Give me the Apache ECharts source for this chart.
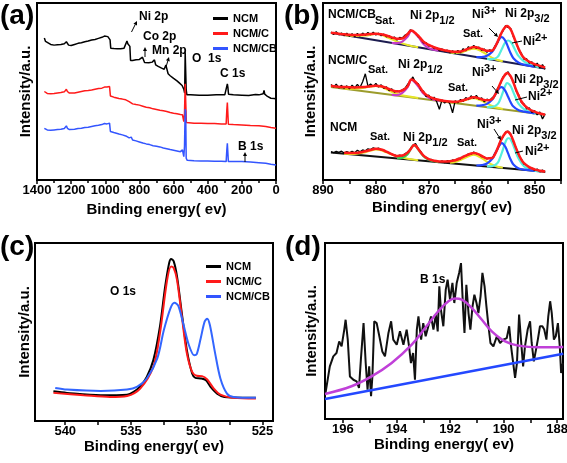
<!DOCTYPE html>
<html><head><meta charset="utf-8">
<script src="https://cdn.jsdelivr.net/npm/echarts@6/dist/echarts.min.js"></script>
<style>html,body{margin:0;padding:0;background:#fff}#c{width:567px;height:463px}</style>
</head><body><div id="c"></div>
<script>
// ---------- Panel (a): survey spectra [binding energy, intensity] ----------
const surveyNCM = [[1357,80.2],[1350,78.3],[1340,77.4],[1320,76.6],[1300,76.2],[1280,76.4],[1260,76.6],[1240,77.0],[1228,78.1],[1222,77.4],[1215,76.2],[1200,76.0],[1180,76.6],[1160,77.2],[1140,77.5],[1120,78.1],[1100,78.5],[1080,79.1],[1060,79.4],[1040,80.0],[1020,80.6],[1005,81.3],[995,80.4],[985,81.0],[978,81.7],[972,79.2],[968,74.5],[950,74.3],[930,74.2],[910,74.2],[890,74.5],[880,75.5],[873,78.5],[868,77.0],[862,77.7],[856,75.5],[852,67.5],[840,67.5],[820,67.9],[800,68.1],[790,68.5],[782,69.4],[778,68.3],[770,66.4],[760,65.8],[745,66.2],[725,66.6],[712,67.9],[705,65.1],[690,64.2],[670,63.2],[655,62.6],[645,64.9],[640,64.5],[632,60.0],[620,58.9],[600,57.4],[580,56.0],[565,54.7],[550,53.4],[540,51.3],[535,49.1],[532,72.1],[529,72.5],[526,50.9],[522,48.1],[500,48.1],[450,47.9],[400,47.9],[350,48.1],[300,48.1],[290,48.5],[285,54.3],[282,52.5],[278,48.5],[250,48.1],[200,47.9],[160,47.7],[120,48.3],[100,48.1],[75,48.7],[70,50.6],[66,48.5],[50,47.2],[30,46.2],[10,46.0],[0,45.8]];
const surveyNCMC = [[1357,50.0],[1340,48.9],[1320,48.7],[1300,48.9],[1280,49.2],[1260,49.4],[1240,49.8],[1228,51.3],[1222,50.0],[1210,49.1],[1200,48.9],[1180,49.2],[1160,49.6],[1140,50.0],[1120,50.4],[1100,50.6],[1080,50.9],[1060,51.3],[1040,51.7],[1020,51.9],[1005,52.5],[990,52.5],[980,53.2],[975,52.8],[970,47.5],[950,46.8],[920,46.0],[900,45.7],[880,45.3],[860,44.3],[850,43.4],[840,43.0],[820,42.6],[800,42.3],[780,41.7],[760,41.1],[740,40.8],[720,40.2],[700,39.8],[680,39.4],[660,39.1],[640,38.7],[620,38.1],[600,37.7],[580,37.4],[560,37.0],[548,36.8],[540,33.0],[536,37.7],[532,54.3],[528,53.2],[525,32.5],[520,32.1],[480,32.1],[440,32.1],[400,31.9],[360,31.9],[320,31.7],[292,31.7],[288,39.6],[285,43.8],[282,43.4],[279,31.5],[250,31.3],[200,31.1],[150,30.8],[100,30.6],[60,30.2],[30,29.6],[0,29.2]];
const surveyNCMCB = [[1357,29.2],[1340,28.3],[1320,28.1],[1300,28.3],[1280,28.5],[1260,28.7],[1240,29.1],[1228,30.6],[1222,29.2],[1210,28.5],[1200,28.3],[1180,28.7],[1160,29.1],[1140,29.2],[1120,29.6],[1100,29.8],[1080,30.2],[1060,30.6],[1040,30.9],[1020,31.3],[1005,31.9],[990,31.7],[980,32.6],[975,32.1],[970,27.4],[950,26.8],[920,26.0],[900,25.5],[880,24.9],[860,23.8],[852,23.0],[848,24.2],[840,22.6],[820,22.1],[800,21.5],[780,20.9],[760,20.4],[740,20.0],[720,19.4],[700,19.1],[680,18.7],[660,18.1],[640,17.7],[620,17.2],[600,16.8],[580,16.4],[560,16.0],[548,17.0],[540,13.2],[536,18.9],[532,40.0],[529,38.7],[526,12.3],[520,11.1],[480,10.9],[440,10.8],[400,10.8],[360,10.6],[320,10.6],[292,10.4],[288,17.0],[285,20.8],[282,19.8],[279,10.4],[250,10.4],[200,10.4],[190,10.8],[150,10.2],[100,9.8],[60,9.4],[30,8.9],[0,8.5]];

// ---------- Panel (b): Ni 2p spectra ----------
const bRawEnergy = [888.5,888,887.5,887,886.5,886,885.5,885,884.5,884,883.5,883,882.5,882,881.5,881,880.5,880,879.5,879,878.5,878,877.5,877,876.5,876,875.5,875,874.5,874,873.5,873,872.5,872,871.5,871,870.5,870,869.5,869,868.5,868,867.5,867,866.5,866,865.5,865,864.5,864,863.5,863,862.5,862,861.5,861,860.5,860,859.5,859,858.5,858,857.5,857,856.5,856,855.5,855,854.5,854,853.5,853,852.5,852,851.5,851,850.5,850,849.5,849,848.5,848];
const bRawCB = [83.5,82.2,83.8,82.0,83.1,81.5,82.9,81.2,82.6,80.9,82.8,81.4,83.0,81.8,83.4,82.0,83.5,81.9,83.0,81.5,82.4,80.9,81.5,80.0,80.8,79.0,80.6,80.2,81.8,82.4,84.9,83.9,83.2,80.8,80.0,77.5,77.6,75.6,75.9,74.2,74.8,73.0,74.1,72.5,73.4,71.8,73.0,71.6,73.2,71.9,74.2,73.0,75.3,74.2,76.0,74.3,75.1,73.2,74.0,72.1,73.6,72.8,75.6,77.4,82.0,84.0,87.2,86.2,85.6,80.8,78.1,73.4,71.6,68.2,68.5,66.0,66.8,64.2,66.0,63.2,65.2,62.5];
const bRawC = [54.0,52.5,54.2,52.0,53.5,51.8,53.2,51.5,53.6,52.0,54.0,52.2,55.5,60.0,53.0,54.3,52.8,54.6,52.5,53.8,51.8,52.6,50.5,51.5,49.6,50.4,49.8,51.0,51.8,54.0,56.0,58.2,55.0,54.5,50.8,50.2,47.0,48.0,45.6,46.8,44.2,40.0,45.3,43.5,44.8,43.0,38.0,44.8,43.6,45.5,44.4,46.6,45.4,47.6,46.0,47.8,45.5,46.4,44.2,45.7,45.0,46.5,47.6,51.8,54.0,58.2,59.2,61.2,58.0,55.8,50.4,48.2,43.8,43.0,40.2,40.8,38.2,39.2,36.8,38.4,34.5,37.2];
const bRawNCM = [16.0,15.4,16.2,15.6,16.3,15.2,16.0,15.3,16.2,15.4,16.8,15.9,17.0,16.5,17.6,17.2,18.2,17.6,18.0,17.0,16.9,15.8,15.6,14.4,14.2,13.5,14.0,13.6,14.8,15.8,17.4,19.6,20.6,17.8,16.0,13.6,12.8,11.5,11.6,10.4,10.9,10.0,10.8,9.8,10.9,10.4,11.3,11.0,12.2,12.0,13.4,13.5,14.8,14.6,15.8,14.8,14.5,13.2,13.0,11.9,12.6,12.3,14.8,17.4,22.0,24.0,27.0,27.6,26.0,21.6,18.4,14.0,11.8,9.0,8.4,6.8,6.8,5.4,6.2,4.6,5.6,4.2];

const bEnvCB = [[888.5,83.2],[888,83.0],[887,82.6],[886,82.3],[885,82.0],[884,81.9],[883,82.0],[882,82.2],[881,82.5],[880,82.6],[879,82.3],[878,81.6],[877,80.6],[876,79.8],[875,80.0],[874,82.5],[873.3,84.5],[873,84.2],[872,81.5],[871,78.2],[870,76.3],[869,75.0],[868,74.0],[867,73.3],[866,72.7],[865,72.4],[864,72.6],[863,73.6],[862,74.8],[861.5,75.2],[861,75.0],[860,74.0],[859,73.0],[858,73.2],[857.5,75.0],[857,78.0],[856.5,81.5],[856,84.5],[855.5,86.5],[855.2,87.0],[855,86.8],[854.5,85.0],[854,81.5],[853.5,77.5],[853,74.0],[852.5,71.0],[852,69.0],[851,66.8],[850,65.5],[849,64.5],[848,63.6]];
const bBgCB = [[888.5,83.2],[848,63.0]];
const bSat1CB = [[886,81.9],[884,81.4],[882,81.6],[881,82.0],[880,82.6],[879,82.0],[878,80.8],[876,78.2],[874,76.3],[872,75.0]];
const bP12CB = [[877,77.4],[876,77.3],[875,78.2],[874,81.0],[873.3,84.2],[873,84.0],[872,81.0],[871,76.8],[870,74.5],[869,73.6],[868,73.0]];
const bSat2CB = [[866,72.0],[865,71.8],[864,72.0],[863,73.0],[862,74.0],[861.5,74.2],[861,74.0],[860,72.6],[859,70.9],[858,69.0],[857,67.8],[856,67.1]];
const bNi3CB = [[861,69.4],[860,69.5],[859,70.2],[858,72.5],[857.5,75.0],[857,78.0],[856.5,80.3],[856.3,80.8],[856,80.5],[855.5,78.5],[855,75.0],[854.5,71.5],[854,68.8],[853,66.3],[852,65.2],[850,64.0]];
const bNi2CB = [[859,68.4],[858,68.3],[857,69.5],[856.5,72.0],[856,75.2],[855.5,77.8],[855,78.8],[854.5,78.0],[854,75.5],[853.5,72.5],[853,70.0],[852,67.0],[851,65.5],[850,64.4],[849,63.6]];

const bEnvC = [[888.5,53.2],[888,53.0],[886,52.5],[884,52.3],[882,52.6],[881,53.0],[880,53.3],[879,53.0],[878,52.0],[877,50.8],[876,50.0],[875,50.6],[874,53.0],[873.3,56.8],[873,56.6],[872,53.8],[871,49.5],[870,47.2],[869,46.0],[868,45.2],[867,44.6],[866,44.3],[865,44.2],[864,44.6],[863,45.5],[862,46.5],[861.5,46.8],[861,46.6],[860,45.6],[859,45.0],[858,45.8],[857.5,48.0],[857,51.0],[856.5,54.5],[856,57.5],[855.5,59.8],[855.2,60.4],[855,60.2],[854.5,58.5],[854,55.0],[853.5,51.0],[853,47.5],[852.5,44.5],[852,42.5],[851,40.0],[850,38.6],[849,37.6],[848,36.9]];
const bBgC = [[888.5,52.5],[848,36.8]];
const bSat1C = [[886,51.7],[884,51.6],[882,52.2],[881,52.8],[880,53.1],[879,52.6],[878,51.2],[876,48.6],[874,47.3],[872,46.3]];
const bP12C = [[877,48.1],[876,48.0],[875,49.2],[874,52.5],[873.3,56.5],[873,56.2],[872,53.0],[871,48.8],[870,46.5],[869,45.3],[868,44.7]];
const bSat2C = [[866,43.9],[865,43.9],[864,44.3],[863,45.2],[862,46.1],[861.5,46.2],[861,45.9],[860,44.8],[859,43.2],[858,41.8],[857,40.8],[856,40.1]];
const bNi3C = [[861,42.0],[860,42.2],[859,43.0],[858,45.5],[857.5,48.0],[857,50.5],[856.5,52.3],[856.3,52.5],[856,52.2],[855.5,50.2],[855,47.0],[854.5,43.8],[854,41.5],[853,39.4],[852,38.6],[850,37.6]];
const bNi2C = [[859,41.2],[858,41.3],[857,42.8],[856.5,45.5],[856,49.5],[855.5,53.5],[855.2,54.7],[855,54.6],[854.5,53.0],[854,49.5],[853.5,46.0],[853,43.0],[852,40.0],[851,38.6],[850,37.8],[849,37.2]];

const bEnvNCM = [[886,15.4],[884,15.3],[882,16.2],[881,17.0],[880,17.6],[879,17.2],[878,16.0],[877,14.6],[876,13.6],[875,13.8],[874,15.5],[873,19.2],[872.8,19.8],[872.5,19.5],[872,17.5],[871,13.8],[870,11.8],[869,10.9],[868,10.5],[867,10.4],[866,10.6],[865,11.2],[864,12.3],[863,13.8],[862,15.0],[861.5,15.3],[861,15.0],[860,13.6],[859,12.2],[858,12.5],[857.5,14.5],[857,17.8],[856.5,21.5],[856,24.5],[855.5,26.6],[855.2,27.3],[855,27.2],[854.5,25.5],[854,22.0],[853.5,18.0],[853,14.5],[852.5,11.5],[852,9.5],[851,7.3],[850,6.0],[849,5.2],[848,4.8]];
const bBgNCM = [[888.5,15.5],[848,4.7]];
const bSat1NCM = [[886,14.9],[884,14.7],[882,15.7],[881,16.6],[880,17.2],[879,16.8],[878,15.6],[876,13.4],[874,12.0],[872,11.2]];
const bP12NCM = [[876,12.3],[875,12.6],[874,14.5],[873.3,18.2],[872.8,19.6],[872.5,19.3],[872,17.3],[871,13.5],[870,11.4],[869,10.6],[868,10.1]];
const bSat2NCM = [[866,9.7],[865,10.2],[864,11.2],[863,12.7],[862,14.0],[861.5,14.3],[861,14.0],[860,12.4],[859,10.3],[858,8.6],[857,7.5],[856,6.9]];
const bNi3NCM = [[861,8.2],[860,8.4],[859,9.3],[858,12.0],[857.5,14.8],[857,17.6],[856.5,20.2],[856.2,20.8],[856,20.6],[855.5,18.6],[855,15.0],[854.5,11.4],[854,8.8],[853,6.5],[852,5.9],[850,5.2]];
const bNi2NCM = [[859,7.7],[858,7.8],[857,9.6],[856.5,12.8],[856,17.0],[855.5,21.5],[855,23.6],[854.8,23.6],[854.5,22.8],[854,19.5],[853.5,15.5],[853,12.0],[852,7.8],[851,6.0],[850,5.3],[849,4.9]];

// ---------- Panel (c): O 1s ----------
const oNCM = [[540.9,16.7],[539.87,15.8],[537.3,14.5],[535.3,14.8],[534.8,16.4],[534.3,19.5],[533.8,24.8],[533.3,34.2],[532.8,53.0],[532.4,75.6],[532.1,88.7],[531.95,91.0],[531.75,89.7],[531.5,81.2],[531.1,58.6],[530.75,39.8],[530.35,26.7],[530.1,24.2],[529.7,23.9],[529.3,22.9],[528.95,19.2],[528.45,15.4],[527.9,13.5],[527.2,13.2],[525.5,13.0]];
const oNCMC = [[540.9,15.8],[538.6,14.5],[536.6,13.5],[535.3,14.1],[534.3,18.2],[533.3,30.5],[532.8,49.2],[532.25,79.3],[531.95,86.8],[531.75,85.9],[531.5,79.3],[531.1,56.8],[530.75,38.0],[530.35,27.6],[530.0,25.4],[529.6,25.2],[529.2,23.3],[528.7,18.2],[528.2,14.8],[527.2,13.0],[525.5,12.6]];
const oNCMCB = [[540.76,18.6],[539.87,17.7],[537.3,16.9],[535.3,17.7],[534.55,19.2],[533.8,23.9],[533.0,35.2],[532.5,51.1],[532.0,63.3],[531.7,66.5],[531.4,64.7],[531.0,53.9],[530.6,42.7],[530.2,37.0],[530.0,37.6],[529.7,46.4],[529.4,55.8],[529.2,57.5],[529.0,53.9],[528.6,38.0],[528.2,23.9],[527.7,15.4],[527.2,13.5],[525.5,13.0]];
const oLabelTicks = [525,530,535,540];
const oMinorTicks = [525,527.5,530,532.5,535,537.5,540];

// ---------- Panel (d): B 1s ----------
const bData = [[196.65,14.8],[196.49,29.9],[196.36,35.6],[196.24,37.5],[196.14,44.1],[196.05,41.3],[195.95,50.8],[195.9,56.4],[195.82,45.1],[195.74,24.2],[195.61,22.3],[195.49,21.4],[195.4,17.6],[195.33,33.7],[195.23,54.5],[195.15,31.8],[195.08,16.7],[195.02,29.9],[194.95,12.9],[194.9,24.2],[194.83,55.5],[194.74,54.5],[194.64,47.0],[194.53,38.4],[194.43,35.6],[194.3,48.9],[194.2,55.5],[194.12,45.1],[193.99,42.2],[193.87,49.8],[193.74,42.2],[193.62,50.8],[193.53,41.3],[193.46,31.8],[193.38,37.5],[193.31,22.3],[193.24,50.8],[193.18,58.3],[193.08,45.1],[193.0,54.5],[192.91,47.0],[192.81,52.7],[192.71,58.3],[192.62,50.8],[192.53,59.3],[192.46,49.8],[192.4,75.4],[192.34,62.1],[192.25,52.7],[192.16,73.5],[192.09,79.2],[192.0,67.8],[191.91,77.3],[191.84,65.9],[191.75,77.3],[191.66,83.0],[191.59,88.6],[191.51,62.1],[191.46,48.9],[191.39,76.3],[191.31,60.2],[191.24,50.8],[191.16,64.0],[191.09,70.6],[191.01,65.9],[190.94,60.2],[190.86,69.7],[190.79,83.0],[190.71,75.4],[190.64,64.0],[190.57,53.6],[190.49,43.2],[190.38,41.3],[190.25,47.0],[190.13,43.2],[190.01,45.1],[189.88,46.0],[189.79,52.7],[189.72,41.3],[189.64,31.8],[189.57,23.3],[189.5,31.8],[189.42,59.3],[189.35,45.1],[189.27,29.9],[189.2,41.3],[189.1,50.8],[189.01,55.5],[188.95,43.2],[188.87,32.8],[188.8,38.4],[188.72,45.1],[188.64,52.7],[188.55,52.7],[188.48,50.8],[188.4,45.1],[188.33,58.3],[188.26,66.9],[188.2,60.2],[188.12,45.1],[188.05,47.0],[187.97,54.5],[187.9,41.3],[187.85,26.1],[187.78,31.8]];
const bFit = [[196.67,14.2],[195.68,18.6],[194.93,24.2],[194.18,31.8],[193.43,42.2],[192.93,51.7],[192.44,61.2],[192.06,66.9],[191.81,68.4],[191.56,67.8],[191.19,63.1],[190.81,56.4],[190.44,49.8],[189.94,44.1],[189.45,41.7],[188.7,40.7],[187.77,40.9]];
const bLine = [[196.67,11.4],[187.77,37.1]];
const dLabelTicks = [188,190,192,194,196];
const dMinorTicks = [188,189,190,191,192,193,194,195,196];

const legendNames = ['NCM','NCM/C','NCM/CB'];

// ---------- build ----------
const FF = "'Liberation Sans', Arial, Helvetica, sans-serif";
const chart = echarts.init(document.getElementById('c'), null, {renderer:'canvas'});

const grids = [
  {left:37, top:3, width:239, height:177},
  {left:323, top:3, width:238, height:177},
  {left:35, top:243, width:238, height:178},
  {left:325, top:243, width:238, height:176}
].map(g => Object.assign(g, {show:true, borderColor:'#000', borderWidth:2, backgroundColor:'transparent', containLabel:false, outerBoundsMode:'none'}));

const lblStyle = {fontSize:13, fontWeight:'bold', color:'#000', fontFamily:FF, margin:4, formatter: v => String(v)};
const tickStyle = {show:true, inside:false, length:4, lineStyle:{color:'#000', width:1.5}};
const nameStyle = {fontSize:15, fontWeight:'bold', color:'#000', fontFamily:FF};
function xAx(gi, min, max, nameGap, extra) {
  return Object.assign({
    gridIndex:gi, type:'value', min, max, inverse:true,
    axisLine:{show:true, onZero:false, lineStyle:{color:'#000', width:2}},
    axisTick:Object.assign({}, tickStyle),
    axisLabel:Object.assign({}, lblStyle),
    splitLine:{show:false},
    name:'Binding energy( ev)', nameLocation:'middle', nameGap, nameTextStyle:nameStyle
  }, extra || {});
}
const xAxes = [
  xAx(0, 0, 1400, 22, {interval:200, minorTick:{show:true, splitNumber:2, length:3, lineStyle:{color:'#000', width:1.5}}, minorSplitLine:{show:false}}),
  xAx(1, 845, 890, 20, {interval:5, axisLabel:Object.assign({}, lblStyle, {formatter: v => (v % 10 === 0 ? String(v) : '')})}),
  xAx(2, 524.2, 542.3, 17, {axisLabel:Object.assign({}, lblStyle, {customValues:oLabelTicks}), axisTick:Object.assign({}, tickStyle, {customValues:oMinorTicks})}),
  xAx(3, 187.78, 196.67, 18, {axisLabel:Object.assign({}, lblStyle, {customValues:dLabelTicks}), axisTick:Object.assign({}, tickStyle, {customValues:dMinorTicks})})
];
const yGaps = [4, 5, 3, 6];
const yAxes = [0,1,2,3].map(i => ({
  gridIndex:i, type:'value', min:0, max:100,
  axisLine:{show:false}, axisTick:{show:false}, axisLabel:{show:false}, splitLine:{show:false},
  name:'Intensity/a.u.', nameLocation:'middle', nameRotate:90, nameGap:yGaps[i], nameTextStyle:nameStyle
}));

function ln(name, gi, data, color, width, extra) {
  return Object.assign({
    type:'line', name, xAxisIndex:gi, yAxisIndex:gi, data, symbol:'none', showSymbol:false,
    lineStyle:{color, width}, itemStyle:{color}, animation:false, silent:true, z:2
  }, extra || {});
}
const pair = (xs, ys) => xs.map((x, i) => [x, ys[i]]);

const C = {black:'#000000', red:'#ff1a1a', blue:'#2448ff', cyan:'#55eedd', yellow:'#e6e62a', magenta:'#c43cc8', green:'#33cc55', navy:'#1c1c50', olive:'#9c9c2c'};
const series = [
  ln('NCM', 0, surveyNCM, C.black, 1.5),
  ln('NCM/C', 0, surveyNCMC, C.red, 1.5),
  ln('NCM/CB', 0, surveyNCMCB, '#3355ff', 1.5),
];
const bSets = [
  {raw:bRawCB, env:bEnvCB, bg:bBgCB, bgc:C.navy, s1:bSat1CB, p12:bP12CB, p12c:C.magenta, s2:bSat2CB, n3:bNi3CB, n2:bNi2CB, tag:'CB'},
  {raw:bRawC, env:bEnvC, bg:bBgC, bgc:C.olive, s1:bSat1C, p12:bP12C, p12c:C.magenta, s2:bSat2C, n3:bNi3C, n2:bNi2C, tag:'C'},
  {raw:bRawNCM, env:bEnvNCM, bg:bBgNCM, bgc:'#111111', s1:bSat1NCM, p12:bP12NCM, p12c:C.green, s2:bSat2NCM, n3:bNi3NCM, n2:bNi2NCM, tag:'N'}
];
bSets.forEach(s => {
  series.push(ln('bg-'+s.tag, 1, s.bg, s.bgc, 2, {z:2}));
  series.push(ln('sat1-'+s.tag, 1, s.s1, C.yellow, 2, {smooth:0.4, z:3}));
  series.push(ln('sat2-'+s.tag, 1, s.s2, C.yellow, 2, {smooth:0.4, z:3}));
  series.push(ln('p12-'+s.tag, 1, s.p12, s.p12c, 2.2, {smooth:0.4, z:3}));
  series.push(ln('ni2-'+s.tag, 1, s.n2, C.cyan, 2.2, {smooth:0.4, z:3}));
  series.push(ln('ni3-'+s.tag, 1, s.n3, C.blue, 2.2, {smooth:0.4, z:4}));
  series.push(ln('raw-'+s.tag, 1, pair(bRawEnergy, s.raw), '#000', 1.3, {z:5}));
  series.push(ln('env-'+s.tag, 1, s.env, C.red, 2.5, {smooth:0.4, z:6}));
});
series.push(ln('NCM', 2, oNCM, C.black, 2, {smooth:0.3, z:3}));
series.push(ln('NCM/C', 2, oNCMC, C.red, 2, {smooth:0.3, z:4}));
series.push(ln('NCM/CB', 2, oNCMCB, '#3366ff', 2, {smooth:0.3, z:5}));
series.push(ln('B data', 3, bData, '#111', 2, {z:3}));
series.push(ln('B bg', 3, bLine, C.blue, 2.5, {z:4}));
series.push(ln('B fit', 3, bFit, '#c040d8', 2.5, {smooth:0.4, z:5}));

// ---------- annotations ----------
function T(x, y, text, size) {
  return {type:'text', x, y, z:100, silent:true,
    style:{text, fontSize:size||12, fontWeight:'bold', fontFamily:FF, fill:'#000', align:'left', verticalAlign:'middle'}};
}
function R(x, y, base, script, isSup, size) {
  size = size || 12;
  const key = isSup ? 'p' : 'b';
  return {type:'text', x, y, z:100, silent:true,
    style:{text:'{n|'+base+'}{'+key+'|'+script+'}', align:'left', verticalAlign:'middle', fill:'#000',
      rich:{
        n:{fontSize:size, fontWeight:'bold', fontFamily:FF, fill:'#000', lineHeight:size+8},
        b:{fontSize:size-1, fontWeight:'bold', fontFamily:FF, fill:'#000', lineHeight:size-1, verticalAlign:'bottom'},
        p:{fontSize:size-1, fontWeight:'bold', fontFamily:FF, fill:'#000', lineHeight:size-1, verticalAlign:'top'}
      }}};
}
function L(x1, y1, x2, y2) {
  return {type:'line', z:100, silent:true, shape:{x1, y1, x2, y2}, style:{stroke:'#000', lineWidth:1}};
}
function A(x1, y1, x2, y2) {
  const ang = Math.atan2(y2 - y1, x2 - x1), len = 4, w = 2;
  const bx = x2 - len * Math.cos(ang), by = y2 - len * Math.sin(ang);
  return [L(x1, y1, bx, by), {type:'polygon', z:100, silent:true,
    shape:{points:[[x2, y2], [bx - w * Math.sin(ang), by + w * Math.cos(ang)], [bx + w * Math.sin(ang), by - w * Math.cos(ang)]]},
    style:{fill:'#000'}}];
}
const graphics = [
  T(0, 16, '(a)', 28), T(284, 16, '(b)', 28), T(0, 247, '(c)', 28), T(285, 247, '(d)', 28),
  // (a)
  T(139, 17, 'Ni 2p'), ...A(131.5, 32, 137, 21),
  T(143, 37, 'Co 2p'), ...A(145, 57, 145, 47),
  T(152, 51, 'Mn 2p'), ...A(166, 67, 169, 57),
  T(192, 59, 'O  1s'),
  T(220, 74, 'C 1s'),
  T(238, 147, 'B 1s'), ...A(245, 162, 245, 152),
  // (b) top
  T(328, 15, 'NCM/CB'), T(375, 21, 'Sat.', 11), R(410, 16, 'Ni 2p', '1/2', false),
  R(472, 15, 'Ni', '3+', true), R(505, 14, 'Ni 2p', '3/2', false),
  T(463, 34, 'Sat.', 11), R(523, 42, 'Ni', '2+', true),
  ...A(489, 28, 498, 37), L(522, 41, 512, 43),
  // (b) middle
  T(328, 61, 'NCM/C'), T(368, 70, 'Sat.', 11), R(398, 65, 'Ni 2p', '1/2', false),
  T(448, 88, 'Sat.', 11), R(472, 73, 'Ni', '3+', true), R(514, 80, 'Ni 2p', '3/2', false),
  R(528, 97, 'Ni', '2+', true),
  ...A(492, 86, 499, 94), L(527, 97, 515, 100),
  // (b) bottom
  T(330, 128, 'NCM'), T(370, 137, 'Sat.', 11), R(403, 138, 'Ni 2p', '1/2', false),
  T(457, 143, 'Sat.', 11), R(477, 125, 'Ni', '3+', true), R(512, 131, 'Ni 2p', '3/2', false),
  R(525, 152, 'Ni', '2+', true),
  ...A(494, 129, 501, 140), L(523, 151, 515, 153),
  // (c), (d)
  T(110, 292, 'O 1s'),
  T(420, 280, 'B 1s')
];

const legendBase = {orient:'vertical', icon:'rect', itemWidth:15, itemHeight:3, itemGap:2, data:legendNames,
  textStyle:{fontSize:11, fontWeight:'bold', color:'#000', fontFamily:FF, lineHeight:13}, selectedMode:false};

chart.setOption({
  animation:false,
  backgroundColor:'#fff',
  textStyle:{fontFamily:FF},
  grid:grids, xAxis:xAxes, yAxis:yAxes, series,
  legend:[Object.assign({left:208, top:7}, legendBase), Object.assign({left:201, top:255}, legendBase)],
  graphic:graphics
});
</script></body></html>
